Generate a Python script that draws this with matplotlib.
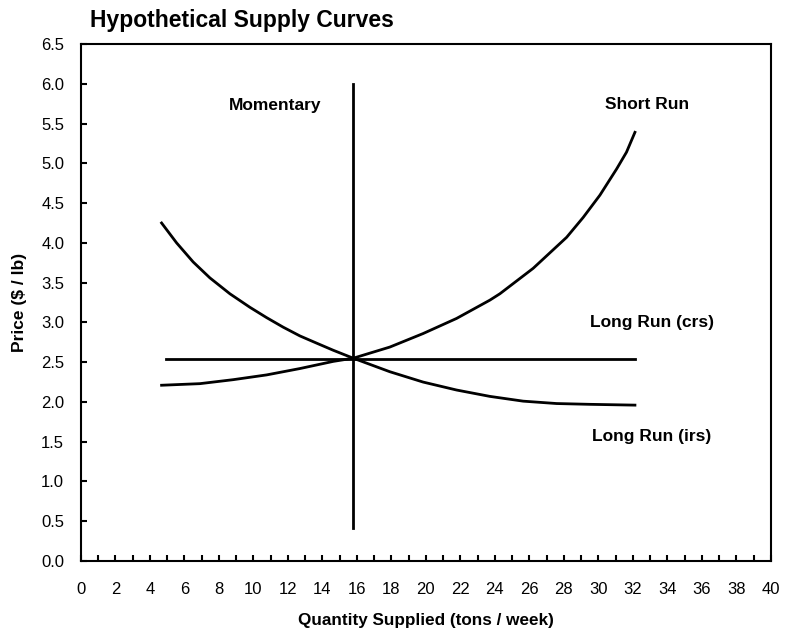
import numpy as np
import matplotlib.pyplot as plt
from matplotlib.ticker import MultipleLocator

plt.rcParams["font.family"] = ["Liberation Sans", "DejaVu Sans"]

# Kurvendaten
momentary_x = [15.79, 15.79]
momentary_y = [0.42, 6.0]

crs_x = [4.93, 32.12]
crs_y = [2.54, 2.54]

short_x = [4.68, 6.90, 8.83, 10.77, 12.70, 14.63, 15.79, 17.91, 19.84, 21.78,
           23.71, 24.29, 26.22, 28.16, 29.12, 30.09, 31.06, 31.63, 32.12]
short_y = [2.21, 2.23, 2.28, 2.34, 2.42, 2.51, 2.55, 2.69, 2.86, 3.05,
           3.28, 3.36, 3.68, 4.07, 4.32, 4.60, 4.93, 5.14, 5.39]

irs_x = [4.68, 5.55, 6.51, 7.48, 8.64, 9.80, 10.77, 11.73, 12.70, 13.66, 14.63,
         15.79, 17.91, 19.84, 21.78, 23.71, 25.64, 27.58, 29.51, 32.12]
irs_y = [4.25, 4.00, 3.76, 3.56, 3.36, 3.19, 3.06, 2.94, 2.83, 2.74, 2.65,
         2.55, 2.38, 2.25, 2.15, 2.07, 2.01, 1.98, 1.97, 1.96]

labels = ["Momentary", "Short Run", "Long Run (crs)", "Long Run (irs)"]
label_pos = [(11.28, 5.73), (32.8, 5.74), (33.1, 3.0), (33.1, 1.56)]

fig = plt.figure(figsize=(7.85, 6.4), dpi=100)
ax = fig.add_axes([0.103, 0.1234, 0.879, 0.8078])

for xs, ys in [(momentary_x, momentary_y), (crs_x, crs_y), (short_x, short_y), (irs_x, irs_y)]:
    ax.plot(xs, ys, color="black", linewidth=2, solid_joinstyle="round")

for txt, (tx, ty) in zip(labels, label_pos):
    ax.text(tx, ty, txt, ha="center", va="center", fontsize=12.5, fontweight="bold")

ax.set_xlim(0, 40)
ax.set_ylim(0, 6.5)
ax.xaxis.set_major_locator(MultipleLocator(2))
ax.xaxis.set_minor_locator(MultipleLocator(1))
ax.yaxis.set_major_locator(MultipleLocator(0.5))
ax.yaxis.set_major_formatter(plt.FormatStrFormatter("%.1f"))
ax.tick_params(direction="in", length=4, width=1.5, labelsize=12)
ax.tick_params(axis="x", pad=15)
ax.tick_params(axis="y", pad=12)
ax.tick_params(which="minor", direction="in", length=4, width=1.5)
for s in ax.spines.values():
    s.set_linewidth(1.5)

ax.set_xlabel("Quantity Supplied (tons / week)", fontsize=12.3, fontweight="bold")
ax.set_ylabel("Price ($ / lb)", fontsize=12.5, fontweight="bold")
ax.xaxis.set_label_coords(0.5, -0.101)
ax.yaxis.set_label_coords(-0.078, 0.5)
fig.text(0.115, 0.968, "Hypothetical Supply Curves", fontsize=16.5, fontweight="bold", va="center")

fig.savefig("out.png", dpi=100)
